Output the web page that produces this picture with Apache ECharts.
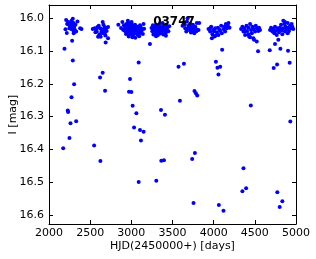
<!DOCTYPE html>
<html><head><meta charset="utf-8">
<script src="https://cdn.jsdelivr.net/npm/echarts@6/dist/echarts.min.js"></script>
<style>html,body{margin:0;padding:0;background:#fff}#c{width:316px;height:259px}</style>
</head><body><div id="c"></div>
<script>
const titleText = '03747';
const xName = 'HJD(2450000+) [days]';
const yName = 'I [mag]';
const xTicks = [2000, 2500, 3000, 3500, 4000, 4500, 5000];
const yTicks = [16.0, 16.1, 16.2, 16.3, 16.4, 16.5, 16.6];

const hjd = [
 2208,2220,2200,2240,2257,2273,2289,2297,2248,2269,2281,2305,2313,2330,2297,2345,2378,2394,2321,2265,2232,2289,2281,2216,2300,
 2531,2555,2572,2588,2604,2620,2636,2652,2661,2676,2693,2700,2717,2669,2645,2612,2596,2628,2676,2685,2580,2564,2717,2688,2660,2640,
 2842,2891,2875,2900,2910,2925,2930,2940,2945,2950,2955,2960,2965,2970,2975,2980,2985,2990,2995,3000,3005,3010,3015,3020,3025,3030,3035,3040,3045,3050,3055,3060,3065,3070,3075,3080,3085,3090,3095,3100,3110,3115,3120,3130,3140,3155,2935,2915,3012,3048,2968,3105,3002,2958,3148,
 3245,3255,3262,3270,3278,3285,3292,3300,3305,3312,3320,3325,3332,3340,3345,3350,3358,3365,3372,3380,3388,3395,3402,3410,3418,3425,3432,3440,3450,3460,3300,3380,3268,3420,3226,
 3622,3634,3654,3675,3683,3695,3707,3715,3736,3748,3755,3776,3788,3796,3816,3824,3724,3764,3667,3700,3740,3760,3680,3790,3650,3720,
 3937,3957,3970,3985,3997,4010,4018,4038,4051,4058,4079,4091,4099,4119,4131,4139,4148,4160,4172,4180,4192,3978,4026,4005,4070,3960,
 4333,4349,4361,4373,4382,4398,4406,4422,4430,4442,4454,4463,4470,4482,4487,4503,4511,4523,4527,4543,4551,4563,4422,4382,4442,4490,
 4685,4697,4713,4725,4737,4745,4753,4766,4778,4785,4794,4806,4818,4826,4834,4846,4858,4866,4875,4887,4899,4907,4915,4927,4939,4947,4955,4967,4846,4866,4785,4745,4899,
 2188,2289,3089,2652,2620,2984,2305,2681,2972,3000,2273,3016,2228,2232,3061,3360,3408,2261,2330,3033,3105,3149,3117,2248,2172,2548,2624,3364,3396,3089,3303,
 4103,4539,4681,4810,4903,3573,3639,4027,4046,4079,4058,4729,4770,4923,3767,3784,3800,3590,4451,4931,3772,3739,4362,4349,4394,4773,4834,4802,3755,4063,4119
];
const mag = [
 16.006,16.018,16.034,16.020,16.027,16.008,16.002,16.015,16.031,16.033,16.029,16.027,16.035,16.041,16.039,16.010,16.031,16.033,16.020,16.016,16.012,16.023,16.069,16.045,16.046,
 16.033,16.031,16.035,16.027,16.023,16.031,16.033,16.012,16.020,16.027,16.031,16.039,16.027,16.041,16.045,16.049,16.057,16.057,16.047,16.053,16.041,16.043,16.061,16.074,16.036,16.040,
 16.020,16.012,16.030,16.035,16.022,16.028,16.040,16.018,16.033,16.045,16.025,16.038,16.015,16.030,16.050,16.022,16.042,16.034,16.027,16.046,16.018,16.037,16.030,16.052,16.024,16.041,16.033,16.047,16.020,16.036,16.029,16.044,16.038,16.026,16.050,16.034,16.042,16.030,16.055,16.037,16.045,16.028,16.040,16.035,16.048,16.032,16.048,16.038,16.058,16.060,16.056,16.022,16.012,16.008,16.018,
 16.030,16.040,16.022,16.035,16.048,16.028,16.038,16.020,16.045,16.032,16.052,16.025,16.040,16.030,16.018,16.047,16.036,16.027,16.042,16.033,16.050,16.024,16.038,16.030,16.045,16.020,16.035,16.028,16.040,16.025,16.055,16.015,16.050,16.054,16.079,
 16.023,16.015,16.031,16.010,16.000,16.026,16.036,16.017,16.031,16.020,16.041,16.026,16.034,16.015,16.036,16.015,16.044,16.046,16.041,16.022,16.038,16.030,16.035,16.040,16.020,16.028,
 16.033,16.041,16.026,16.049,16.036,16.056,16.031,16.043,16.029,16.051,16.039,16.023,16.046,16.033,16.026,16.041,16.018,16.031,16.023,16.015,16.029,16.061,16.053,16.040,16.035,16.030,
 16.033,16.026,16.041,16.031,16.051,16.023,16.039,16.029,16.056,16.018,16.036,16.046,16.026,16.061,16.033,16.041,16.023,16.071,16.031,16.039,16.029,16.036,16.049,16.041,16.058,16.066,
 16.036,16.029,16.041,16.033,16.046,16.026,16.039,16.051,16.031,16.036,16.043,16.029,16.020,16.037,16.049,16.031,16.018,16.041,16.026,16.033,16.015,16.029,16.039,16.023,16.031,16.018,16.026,16.033,16.008,16.012,16.066,16.079,16.046,
 16.093,16.129,16.135,16.166,16.181,16.185,16.201,16.221,16.224,16.225,16.241,16.267,16.281,16.286,16.290,16.280,16.294,16.320,16.314,16.333,16.341,16.346,16.373,16.365,16.396,16.388,16.435,16.434,16.433,16.499,16.495,
 16.096,16.101,16.098,16.093,16.099,16.148,16.139,16.133,16.151,16.148,16.172,16.152,16.141,16.136,16.222,16.229,16.236,16.252,16.266,16.315,16.411,16.429,16.457,16.527,16.518,16.530,16.558,16.575,16.563,16.569,16.587
];

const points = hjd.map((x, i) => [x, mag[i]]);
const FONT = 'DejaVu Sans';
const frame = {show: true, lineStyle: {color: '#000', width: 1}};
const tickIn = {show: true, inside: true, length: 4, lineStyle: {color: '#000', width: 1}};

const chart = echarts.init(document.getElementById('c'), null, {renderer: 'canvas'});
chart.setOption({
  animation: false,
  backgroundColor: '#fff',
  grid: {left: 49, right: 20, top: 5, bottom: 35, containLabel: false, outerBoundsMode: 'none'},
  xAxis: [
    {type: 'value', min: 2000, max: 5000, interval: 500, position: 'bottom',
     name: xName, nameLocation: 'middle', nameGap: 17, nameMoveOverlap: false,
     nameTextStyle: {fontFamily: FONT, fontSize: 11, color: '#000'},
     axisLine: frame, axisTick: tickIn, splitLine: {show: false},
     axisLabel: {fontFamily: FONT, fontSize: 11, color: '#000', margin: 4,
       formatter: v => String(v)}},
    {type: 'value', min: 2000, max: 5000, interval: 500, position: 'top',
     axisLine: frame, axisTick: tickIn, splitLine: {show: false}, axisLabel: {show: false}}
  ],
  yAxis: [
    {type: 'value', min: 15.96, max: 16.627, inverse: true, position: 'left',
     name: yName, nameLocation: 'middle', nameGap: 30, nameMoveOverlap: false,
     nameTextStyle: {fontFamily: FONT, fontSize: 11, color: '#000'},
     axisLine: frame, splitLine: {show: false},
     axisTick: Object.assign({}, tickIn, {customValues: yTicks}),
     axisLabel: {fontFamily: FONT, fontSize: 11, color: '#000', margin: 5,
       customValues: yTicks, formatter: v => v.toFixed(1)}},
    {type: 'value', min: 15.96, max: 16.627, inverse: true, position: 'right',
     axisLine: frame, splitLine: {show: false},
     axisTick: Object.assign({}, tickIn, {customValues: yTicks}),
     axisLabel: {show: false}}
  ],
  graphic: [{type: 'text', x: 174, y: 22, z: 100,
    style: {text: titleText, textAlign: 'center', textVerticalAlign: 'middle',
      font: 'bold 12px "DejaVu Sans"', fill: '#000'}}],
  series: [{type: 'scatter', data: points, symbol: 'circle', symbolSize: 4,
    itemStyle: {color: '#0000ff', opacity: 1}, xAxisIndex: 0, yAxisIndex: 0, z: 5}]
});
</script>
</body></html>
